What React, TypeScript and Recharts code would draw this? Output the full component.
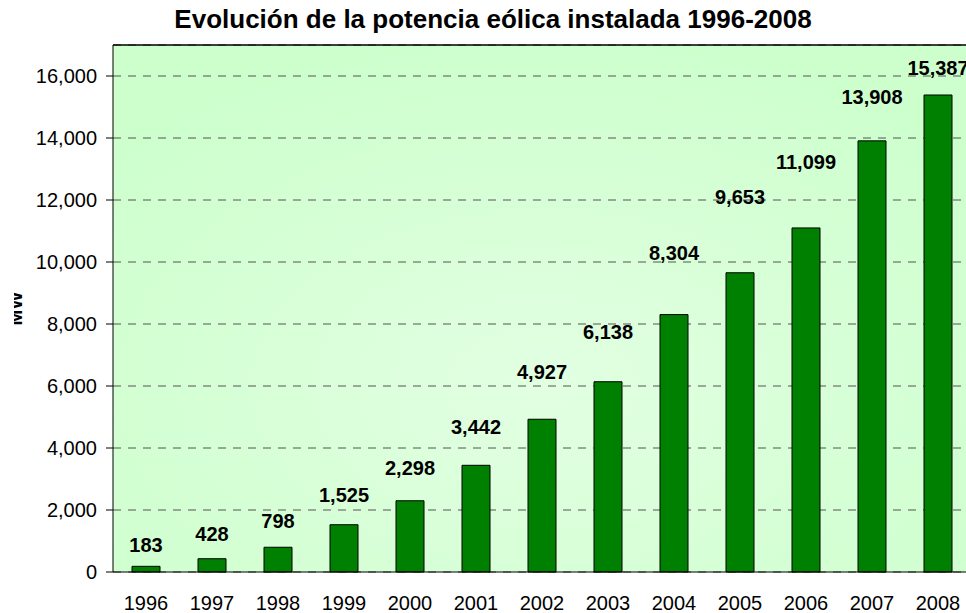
import { Bar, Line, XAxis, YAxis, CartesianGrid, ReferenceLine, LabelList, ComposedChart } from 'recharts'

const years = ['1996', '1997', '1998', '1999', '2000', '2001', '2002', '2003', '2004', '2005', '2006', '2007', '2008']
const mw = [183, 428, 798, 1525, 2298, 3442, 4927, 6138, 8304, 9653, 11099, 13908, 15387]
// where each value label sits in the original chart, in MW
const labelLevels = [870, 1230, 1650, 2480, 3350, 4680, 6450, 7740, 10290, 12100, 13230, 15320, 16260]
const yTicks = [0, 2000, 4000, 6000, 8000, 10000, 12000, 14000, 16000]
const yMax = 17000

const data = years.map((year, i) => ({ year, mw: mw[i], labelAt: labelLevels[i] }))
const edgeTicks = years.map((_, i) => i).concat(years.length)

const font = "'Liberation Sans', Arial, sans-serif"
const fmt = (v: number) => v.toLocaleString('en-US')

function AxisTitle({ viewBox }: any) {
  const cy = viewBox.y + viewBox.height / 2
  return (
    <svg x={14} y={cy - 40} width={20} height={80} overflow="hidden">
      <text
        x={8}
        y={40}
        transform="rotate(-90, 8, 40)"
        textAnchor="middle"
        fontFamily={font}
        fontSize={19}
        fontWeight="bold"
        fill="#000"
      >
        MW
      </text>
    </svg>
  )
}

export default function App() {
  return (
    <div style={{ position: 'fixed', left: 0, top: 0, width: 966, height: 613, overflow: 'hidden', background: '#fff' }}>
      <div
        style={{
          position: 'absolute', top: 6, left: 0, width: 986, textAlign: 'center',
          fontFamily: font, fontSize: 26, lineHeight: '26px', fontWeight: 'bold', color: '#000',
        }}
      >
        Evolución de la potencia eólica instalada 1996-2008
      </div>
      <ComposedChart width={971} height={613} data={data} margin={{ top: 45, right: 0, left: 0, bottom: 0 }}>
        <defs>
          <radialGradient id="plotBg" cx="0.5" cy="0.65" r="0.7">
            <stop offset="0%" stopColor="#e2ffe2" />
            <stop offset="100%" stopColor="#ccffcc" />
          </radialGradient>
        </defs>
        <CartesianGrid
          vertical={false}
          fill="url(#plotBg)"
          fillOpacity={1}
          stroke="#555"
          strokeDasharray="8 7"
          xAxisId="cat"
        />
        <XAxis
          xAxisId="edge"
          type="number"
          domain={[0, years.length]}
          ticks={edgeTicks}
          height={0}
          tick={false}
          axisLine={false}
          tickSize={6}
          tickLine={{ stroke: '#000' }}
        />
        <XAxis
          xAxisId="cat"
          dataKey="year"
          height={41}
          axisLine={{ stroke: '#000' }}
          tickLine={false}
          tickSize={6}
          tickMargin={18}
          tick={{ fontFamily: font, fontSize: 20, fill: '#000' }}
          interval={0}
        />
        <YAxis
          width={113}
          domain={[0, yMax]}
          ticks={yTicks}
          tickFormatter={fmt}
          axisLine={{ stroke: '#000' }}
          tickLine={{ stroke: '#000' }}
          tickSize={7}
          tickMargin={9}
          tick={{ fontFamily: font, fontSize: 20, fill: '#000' }}
          label={<AxisTitle />}
        />
        <ReferenceLine y={yMax} xAxisId="cat" stroke="#000" strokeWidth={1.5} />
        <Bar
          xAxisId="cat"
          dataKey="mw"
          barSize={28}
          fill="#008000"
          stroke="#000"
          strokeWidth={1}
          isAnimationActive={false}
        />
        <Line
          xAxisId="cat"
          dataKey="labelAt"
          stroke="none"
          dot={false}
          activeDot={false}
          isAnimationActive={false}
        >
          <LabelList
            dataKey="mw"
            position="center"
            formatter={(v: any) => fmt(Number(v))}
            style={{ fontFamily: font, fontSize: 20, fontWeight: 'bold', fill: '#000' }}
          />
        </Line>
      </ComposedChart>
    </div>
  )
}
